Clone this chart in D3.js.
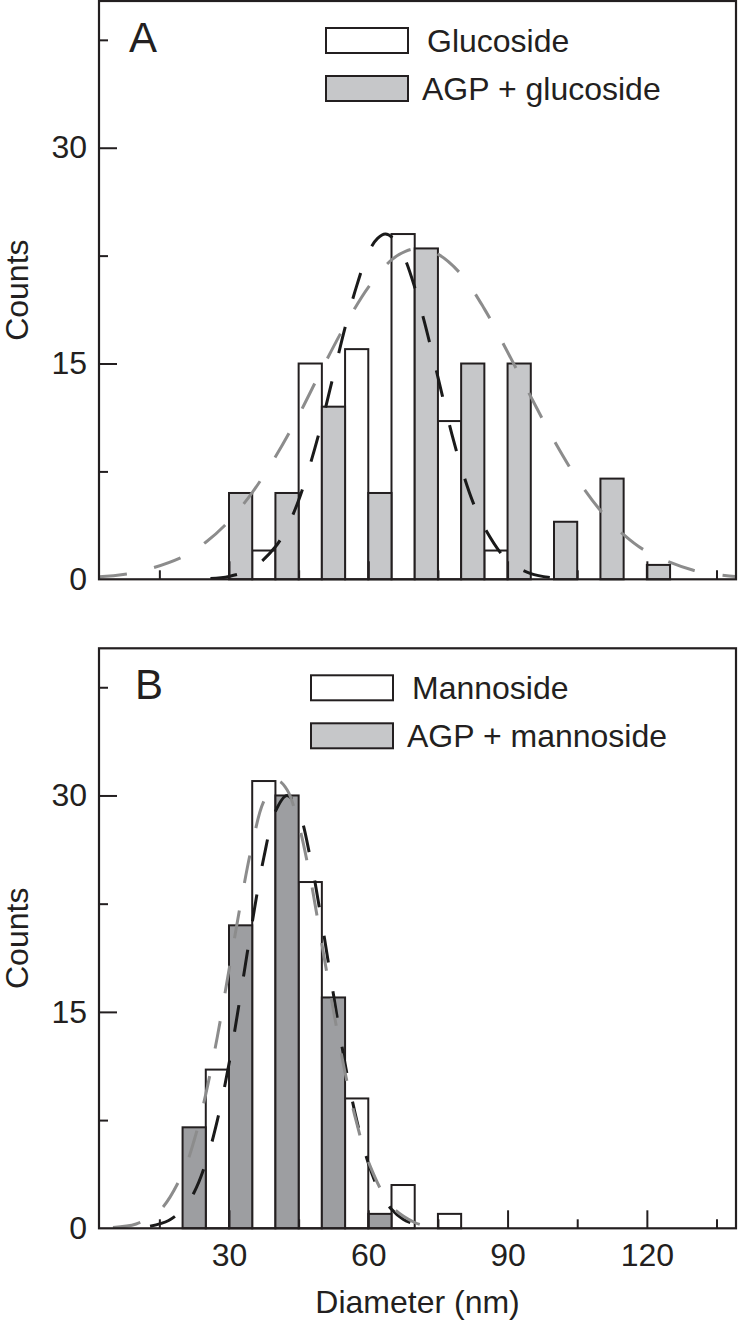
<!DOCTYPE html>
<html>
	<head>
		<meta charset="utf-8">
		<title>Diameter histograms</title>
		<script src="https://d3js.org/d3.v7.min.js"></script>
		<style>
			body { margin: 0; background: #fff; }
			svg text { font-family: "Liberation Sans", Arial, Helvetica, sans-serif; fill: #231f20; }
		</style>
	</head>
	<body>
		<svg id="chart" width="738" height="1320"></svg>

		<script>

			// bin starts (nm), every bin is 5 nm wide
			var bin_width = 5;

			// panel A
			var glucoside_bins = [35, 45, 55, 65, 75, 85];
			var glucoside_counts = [2, 15, 16, 24, 11, 2];
			var agp_glucoside_bins = [30, 40, 50, 60, 70, 80, 90, 100, 110, 120];
			var agp_glucoside_counts = [6, 6, 12, 6, 23, 15, 15, 4, 7, 1];

			// fitted curves [diameter, count]
			var glucoside_fit = [[26,0.06],[30,0.2],[35,0.75],[40,2.26],[42.5,3.6],[45,5.5],[47.5,8.0],[50,10.9],
				[52.5,14.2],[55,17.5],[57.5,20.4],[60,22.7],[62,23.7],[63.7,24],[66,23.5],[68,22.2],[70,20.3],
				[72,18.0],[74,15.4],[76,12.7],[78,10.1],[80,7.8],[82.5,5.4],[85,3.6],[90,1.3],[95,0.4],[100,0.1]];
			var agp_glucoside_fit = [[2,0.17],[10,0.49],[20,1.56],[25,2.58],[30,4.05],[35,6.03],[40,8.52],[45,11.4],
				[50,14.6],[55,17.65],[60,20.3],[65,22.2],[68,22.8],[71,23],[75,22.6],[80,21.2],[85,18.8],[90,15.8],
				[95,12.7],[100,9.65],[105,6.97],[110,4.78],[115,3.11],[120,1.93],[130,0.63],[139,0.19]];

			// panel B
			var mannoside_bins = [25, 35, 45, 55, 65, 75];
			var mannoside_counts = [11, 31, 24, 9, 3, 1];
			var agp_mannoside_bins = [20, 30, 40, 50, 60];
			var agp_mannoside_counts = [7, 21, 30, 16, 1];

			var mannoside_fit = [[13,0.14],[17,0.54],[20,1.32],[22.5,2.5],[25,4.53],[27.5,7.5],[30,11.4],[32.5,16.2],
				[35,21.2],[37.5,25.7],[40,28.9],[42.5,30],[45,28.9],[47.5,25.7],[50,21.2],[52.5,16.2],[55,11.4],
				[57.5,7.5],[60,4.53],[62.5,2.5],[65,1.32],[67.5,0.63],[70,0.28]];
			var agp_mannoside_fit = [[5,0.06],[10,0.3],[15,1.2],[20,3.8],[22.5,6.1],[25,9.3],[27.5,13.3],[30,17.9],
				[32.5,22.5],[35,26.6],[37.5,29.6],[40.5,31],[42.5,30.4],[45,28.0],[47.5,24.3],[50,19.7],[52.5,15.1],
				[55,10.8],[57.5,7.3],[60,4.63],[65,1.54],[70,0.4],[72,0.2]];

			var x_major = [30, 60, 90, 120];
			var x_minor = [15, 45, 75, 105, 135];
			var y_major = [0, 15, 30];
			var y_minor = [7.5, 22.5, 37.5];

			var ink = "#231f20";
			var left = 99, right = 736;

			var svg = d3.select("#chart");

			var x_scaler = d3.scaleLinear().domain([2, 139.2]).range([left, right]);

			var line = d3.line().curve(d3.curveCatmullRom);

			function drawpanel(opt) {
				var y_scaler = d3.scaleLinear().domain([0, 40.2]).range([opt.bottom, opt.top]);
				var g = svg.append("g");

				g.append("clipPath").attr("id", "clip" + opt.name)
					.append("rect")
					.attr("x", left).attr("y", opt.top)
					.attr("width", right - left).attr("height", opt.bottom - opt.top);

				function bars(bins, counts, fill) {
					g.append("g").selectAll("rect")
						.data(bins)
						.enter().append("rect")
						.attr("x", d => x_scaler(d))
						.attr("width", d => x_scaler(d + bin_width) - x_scaler(d))
						.attr("y", (d, i) => y_scaler(counts[i]))
						.attr("height", (d, i) => y_scaler(0) - y_scaler(counts[i]))
						.attr("fill", fill)
						.attr("stroke", ink)
						.attr("stroke-width", 2);
				}
				bars(opt.white_bins, opt.white_counts, "#ffffff");
				bars(opt.gray_bins, opt.gray_counts, opt.gray);

				line.x(d => x_scaler(d[0])).y(d => y_scaler(d[1]));

				g.append("path")
					.attr("d", line(opt.black_fit))
					.attr("clip-path", "url(#clip" + opt.name + ")")
					.attr("fill", "none")
					.attr("stroke", "#1a1a1a")
					.attr("stroke-width", 3)
					.attr("stroke-dasharray", "27,29");

				g.append("path")
					.attr("d", line(opt.gray_fit))
					.attr("clip-path", "url(#clip" + opt.name + ")")
					.attr("fill", "none")
					.attr("stroke", "#8c8c8c")
					.attr("stroke-width", 3)
					.attr("stroke-dasharray", "28,28");

				// ticks point inwards
				var yaxis = g.append("g").attr("transform", "translate(" + left + ",0)")
					.call(d3.axisLeft(y_scaler).tickValues(y_major).tickSize(-18).tickPadding(12));
				g.append("g").attr("transform", "translate(" + left + ",0)")
					.call(d3.axisLeft(y_scaler).tickValues(y_minor).tickSize(-9).tickFormat(""));

				var xaxis = g.append("g").attr("transform", "translate(0," + opt.bottom + ")")
					.call(d3.axisBottom(x_scaler).tickValues(x_major).tickSize(-18).tickPadding(15)
						.tickFormat(opt.xlabels ? d3.format("d") : ""));
				g.append("g").attr("transform", "translate(0," + opt.bottom + ")")
					.call(d3.axisBottom(x_scaler).tickValues(x_minor).tickSize(-9).tickFormat(""));

				g.selectAll(".domain").remove();
				g.selectAll(".tick line").attr("stroke", ink).attr("stroke-width", 2);
				g.selectAll(".tick text").style("font-size", "32px").attr("fill", ink);
				yaxis.selectAll(".tick").filter(d => d == 0).select("line").remove();

				// frame
				g.append("rect")
					.attr("x", left).attr("y", opt.top)
					.attr("width", right - left).attr("height", opt.bottom - opt.top)
					.attr("fill", "none")
					.attr("stroke", ink)
					.attr("stroke-width", 2.2);

				g.append("text")
					.attr("transform", "translate(28," + ((opt.top + opt.bottom) / 2) + ") rotate(-90)")
					.attr("text-anchor", "middle")
					.style("font-size", "32px")
					.text("Counts");

				g.append("text")
					.attr("x", opt.letter_x).attr("y", opt.top + 51)
					.style("font-size", "42px")
					.text(opt.name);

				// legend
				var lx = opt.legend_x;
				g.append("rect")
					.attr("x", lx).attr("y", opt.top + 27).attr("width", 82).attr("height", 25)
					.attr("fill", "#ffffff").attr("stroke", ink).attr("stroke-width", 2);
				g.append("rect")
					.attr("x", lx).attr("y", opt.top + 75).attr("width", 82).attr("height", 25)
					.attr("fill", opt.legend_gray).attr("stroke", ink).attr("stroke-width", 2);
				g.append("text")
					.attr("x", lx + 101).attr("y", opt.top + 51)
					.style("font-size", "32px")
					.text(opt.white_label);
				g.append("text")
					.attr("x", lx + 96).attr("y", opt.top + 99)
					.style("font-size", "32px")
					.text(opt.gray_label);
			}

			drawpanel({
				name: "A", top: 1, bottom: 579.3, letter_x: 129, legend_x: 326, xlabels: false,
				white_bins: glucoside_bins, white_counts: glucoside_counts,
				gray_bins: agp_glucoside_bins, gray_counts: agp_glucoside_counts,
				gray: "#c6c7c9", legend_gray: "#c6c7c9",
				black_fit: glucoside_fit, gray_fit: agp_glucoside_fit,
				white_label: "Glucoside", gray_label: "AGP + glucoside"
			});

			drawpanel({
				name: "B", top: 648.3, bottom: 1228.3, letter_x: 135, legend_x: 311, xlabels: true,
				white_bins: mannoside_bins, white_counts: mannoside_counts,
				gray_bins: agp_mannoside_bins, gray_counts: agp_mannoside_counts,
				gray: "#9d9ea1", legend_gray: "#c6c7c9",
				black_fit: mannoside_fit, gray_fit: agp_mannoside_fit,
				white_label: "Mannoside", gray_label: "AGP + mannoside"
			});

			svg.append("text")
				.attr("x", (left + right) / 2).attr("y", 1313)
				.attr("text-anchor", "middle")
				.style("font-size", "32px")
				.text("Diameter (nm)");

		</script>
	</body>
</html>
